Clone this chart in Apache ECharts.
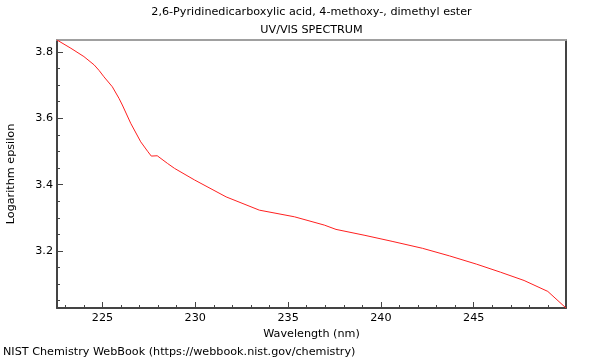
<!DOCTYPE html>
<html><head><meta charset="utf-8">
<script src="https://cdn.jsdelivr.net/npm/echarts@6/dist/echarts.min.js"></script>
<style>html,body{margin:0;padding:0;background:#fff}#c{width:600px;height:360px}</style>
</head><body><div id="c"></div>
<script>
const wavelength = [222.55, 223.3, 224.0, 224.55, 224.82, 225.08, 225.53, 225.89, 226.07, 226.52, 227.06, 227.45, 227.63, 227.95, 228.5, 228.88, 229.96, 231.66, 233.45, 235.34, 236.95, 237.58, 239.14, 240.6, 242.24, 243.7, 245.16, 246.44, 247.71, 248.99, 249.97];
const logEps = [3.836, 3.811, 3.786, 3.761, 3.744, 3.725, 3.695, 3.660, 3.640, 3.585, 3.529, 3.499, 3.486, 3.487, 3.464, 3.449, 3.414, 3.363, 3.323, 3.303, 3.278, 3.265, 3.247, 3.229, 3.208, 3.185, 3.160, 3.136, 3.111, 3.078, 3.028];
const xMajorTicks = [225, 230, 235, 240, 245];
const xMinorTicks = [223, 224, 226, 227, 228, 229, 231, 232, 233, 234, 236, 237, 238, 239, 241, 242, 243, 244, 246, 247, 248, 249];
const yMajorTicks = [3.2, 3.4, 3.6, 3.8];
const yMinorTicks = [3.05, 3.1, 3.15, 3.25, 3.3, 3.35, 3.45, 3.5, 3.55, 3.65, 3.7, 3.75];
const titleText = '2,6-Pyridinedicarboxylic acid, 4-methoxy-, dimethyl ester\nUV/VIS SPECTRUM';
const footerText = 'NIST Chemistry WebBook (https://webbook.nist.gov/chemistry)';
const xName = 'Wavelength (nm)';
const yName = 'Logarithm epsilon';

const X_MIN = 222.55, X_MAX = 249.97, Y_MIN = 3.028, Y_MAX = 3.836;
const FONT = 'DejaVu Sans';
const FS = 11.2;
const dark = '#444';
const chart = echarts.init(document.getElementById('c'), null, {renderer: 'canvas'});
const baseX = {type: 'value', min: X_MIN, max: X_MAX, splitLine: {show: false}};
const baseY = {type: 'value', min: Y_MIN, max: Y_MAX, splitLine: {show: false}};
chart.setOption({
  animation: false,
  title: [
    {text: titleText, left: 311.5, top: 3, padding: 0, textAlign: 'center',
     textStyle: {fontFamily: FONT, fontSize: FS, fontWeight: 'normal', color: '#000', lineHeight: 18}},
    {text: footerText, left: 3, top: 345, padding: 0,
     textStyle: {fontFamily: FONT, fontSize: FS, fontWeight: 'normal', color: '#000', lineHeight: 14}}
  ],
  grid: {left: 57, right: 34, top: 40, bottom: 52, show: false, containLabel: false, outerBoundsMode: 'none'},
  xAxis: [
    Object.assign({}, baseX, {position: 'bottom', name: xName, nameLocation: 'middle', nameGap: 17,
      nameTextStyle: {fontFamily: FONT, fontSize: FS, color: '#000'},
      axisLine: {show: true, lineStyle: {color: dark, width: 2}},
      axisTick: {show: true, inside: true, length: 6, customValues: xMajorTicks, lineStyle: {color: dark, width: 1}},
      axisLabel: {show: true, customValues: xMajorTicks, margin: 5, fontFamily: FONT, fontSize: FS, color: '#000'}}),
    Object.assign({}, baseX, {position: 'bottom',
      axisLine: {show: false},
      axisTick: {show: true, inside: true, length: 3, customValues: xMinorTicks, lineStyle: {color: dark, width: 1}},
      axisLabel: {show: false}}),
    Object.assign({}, baseX, {position: 'top',
      axisLine: {show: true, lineStyle: {color: '#a0a0a0', width: 2}},
      axisTick: {show: false}, axisLabel: {show: false}})
  ],
  yAxis: [
    Object.assign({}, baseY, {position: 'left', name: yName, nameLocation: 'middle', nameGap: 40,
      nameTextStyle: {fontFamily: FONT, fontSize: FS, color: '#000'},
      axisLine: {show: true, lineStyle: {color: dark, width: 2}},
      axisTick: {show: true, inside: true, length: 6, customValues: yMajorTicks, lineStyle: {color: dark, width: 1}},
      axisLabel: {show: true, customValues: yMajorTicks, margin: 4, fontFamily: FONT, fontSize: FS, color: '#000',
        formatter: v => v.toFixed(1)}}),
    Object.assign({}, baseY, {position: 'left',
      axisLine: {show: false},
      axisTick: {show: true, inside: true, length: 3, customValues: yMinorTicks, lineStyle: {color: dark, width: 1}},
      axisLabel: {show: false}}),
    Object.assign({}, baseY, {position: 'right',
      axisLine: {show: true, lineStyle: {color: dark, width: 2}},
      axisTick: {show: false}, axisLabel: {show: false}})
  ],
  series: [{
    type: 'line', xAxisIndex: 0, yAxisIndex: 0,
    data: wavelength.map((w, i) => [w, logEps[i]]),
    showSymbol: false, symbol: 'none', smooth: false,
    lineStyle: {color: '#ff2020', width: 1},
    clip: true
  }]
});
</script>
</body></html>
